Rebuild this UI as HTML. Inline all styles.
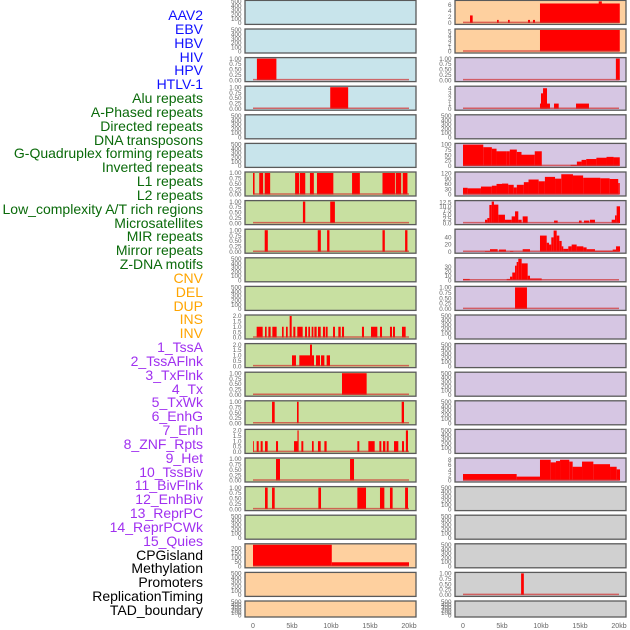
<!DOCTYPE html>
<html><head><meta charset="utf-8">
<style>
html,body{margin:0;padding:0;background:#fff;}
body{width:630px;height:630px;overflow:hidden;position:relative;font-family:"Liberation Sans",sans-serif;}
#labels div{position:absolute;right:427px;font-size:14px;line-height:14px;white-space:nowrap;}
svg{position:absolute;left:0;top:0;}
</style></head>
<body>
<div id="labels"></div>
<svg id="chart" width="630" height="630"></svg>
<script>
// ---- label data ----
const trackNames = ["AAV2","EBV","HBV","HIV","HPV","HTLV-1","Alu repeats","A-Phased repeats","Directed repeats","DNA transposons","G-Quadruplex forming repeats","Inverted repeats","L1 repeats","L2 repeats","Low_complexity A/T rich regions","Microsatellites","MIR repeats","Mirror repeats","Z-DNA motifs","CNV","DEL","DUP","INS","INV","1_TssA","2_TssAFlnk","3_TxFlnk","4_Tx","5_TxWk","6_EnhG","7_Enh","8_ZNF_Rpts","9_Het","10_TssBiv","11_BivFlnk","12_EnhBiv","13_ReprPC","14_ReprPCWk","15_Quies","CPGisland","Methylation","Promoters","ReplicationTiming","TAD_boundary"];
const trackGroups = [6,13,5,15,5];
const groupColors = ["#1010ff","#0a6a0a","#ffa500","#a030f0","#000000"];

// ---- x axis ----
const xTicks = [0,5,10,15,20];
const xTickLabels = ["0","5kb","10kb","15kb","20kb"];

// ---- tick label sets ----
const T500 = ["0","100","200","300","400","500"];
const T1 = ["0.00","0.25","0.50","0.75","1.00"];
const T2 = ["0.0","0.5","1.0","1.5","2.0"];

// ---- left column data: [startKb, endKb, value] ----
const L3 = [[0.5,3.0,1]];
const L4 = [[9.9,12.2,1]];
const L7 = [[0,0.2,1],[0.8,1.3,1],[1.5,2.2,1],[5.4,5.9,1],[6.0,6.7,1],[7.3,7.8,1],[8.2,10.3,1],[12.7,13.7,1],[16.6,18.2,1],[18.3,19.0,1],[19.2,19.8,1]];
const L8 = [[6.4,6.7,1],[9.9,10.5,1]];
const L9 = [[1.5,1.9,1],[8.3,8.7,1],[9.5,9.8,1],[16.6,16.9,1],[19.5,19.8,1]];
const L12 = [[0.47,1.24,1],[1.54,1.75,1],[1.97,2.26,1],[2.48,3.03,1],[3.72,3.93,1],[4.23,4.45,1],[4.70,4.96,2],[5.17,5.43,1],[5.68,6.37,1],[6.67,6.92,1],[7.09,7.31,1],[7.52,7.74,1],[7.87,8.16,1],[8.33,8.68,1],[8.97,9.27,1],[9.36,9.57,1],[10.26,10.51,1],[10.94,11.24,1],[11.41,11.67,1],[13.97,14.23,1],[15.13,15.94,1],[16.28,16.54,1],[17.56,17.82,1],[17.95,18.2,1],[19.1,19.57,1]];
const L13 = [[5.0,5.51,1],[5.94,7.31,1],[7.31,7.56,2],[7.56,7.82,1],[8.08,8.59,1],[8.72,9.15,1],[9.44,9.87,1]];
const L14 = [[11.41,14.57,1]];
const L15 = [[2.44,2.78,1],[5.64,5.85,1],[19.06,19.36,1]];
const L16 = [[0,0.1,1],[0.47,0.73,1],[0.98,1.24,1],[1.54,1.88,1],[2.95,3.21,1],[5.26,5.7,1],[5.7,5.85,2],[6.2,6.45,1],[7.56,7.78,1],[8.33,8.68,1],[9.15,9.44,1],[13.38,13.63,1],[14.79,15.6,1],[16.2,16.45,1],[16.67,16.97,1],[17.14,17.39,1],[18.08,18.63,1],[19.1,19.36,1],[19.6,19.87,2]];
const L17 = [[2.95,3.46,1],[12.44,12.95,1]];
const L18 = [[1.54,1.88,1],[2.44,2.78,1],[8.38,8.72,1],[13.38,14.49,1],[16.28,16.84,1],[17.56,17.9,1],[19.5,19.87,1]];
const L20 = [[0,10.1,240],[10.1,20,45]];

// ---- right column data ----
const R1 = [[0.9,1.24,2.5],[4.36,4.58,1],[5.77,5.99,1],[8.33,8.59,1],[8.97,9.23,1],[9.87,20.1,6.5],[17.4,17.8,7.2]];
const R2 = [[9.87,20.1,5.3]];
const R3 = [[19.6,20.1,1]];
const R4 = [[9.87,11.15,1],[10.0,10.26,3],[10.26,10.77,4],[11.67,12.27,1],[14.49,16.15,1]];
const R6 = [[0,2.6,99],[2.6,3.7,87],[3.7,4.3,80],[4.3,5.6,68],[5.6,6.0,68],[6.0,6.9,76],[6.9,7.5,65],[7.5,9.2,52],[9.2,10.1,68],[13.8,14.6,5],[14.6,15.2,20],[15.2,15.8,28],[15.8,17.1,32],[17.1,18.4,38],[18.4,19.3,42],[19.3,20.1,40]];
const R7 = [[0,0.6,38],[0.6,2.3,35],[2.3,3.7,45],[3.7,4.3,50],[4.3,5.0,60],[5.0,5.8,62],[5.8,6.5,55],[6.5,6.9,40],[6.9,7.8,55],[7.8,8.4,70],[8.4,9.7,85],[9.7,10.5,75],[10.5,11.8,100],[11.8,12.6,90],[12.6,14.1,115],[14.1,15.4,108],[15.4,17.6,95],[17.6,18.8,92],[18.8,19.9,88],[19.9,20.1,65]];
const R8 = [[2.82,3.12,2],[3.12,3.38,3],[3.38,3.68,10.8],[3.68,3.97,12.8],[3.97,4.53,11],[4.53,5.38,5],[5.38,6.24,2],[6.24,6.67,4],[6.67,7.09,7],[7.09,7.52,2],[7.65,8.29,4],[11.67,12.14,1.5],[14.87,15.21,1.5],[15.51,16.2,1.5],[16.28,16.92,2],[19.06,19.49,2],[19.49,19.7,4.6],[19.7,20.13,10]];
const R9 = [[2.82,3.46,2],[3.46,4.44,7],[4.62,5.51,6],[6.03,6.45,2],[7.65,8.59,7],[9.87,10.73,45],[10.73,11.03,25],[11.03,11.32,20],[11.32,11.62,40],[11.62,12.01,59],[12.01,12.35,45],[12.35,12.65,30],[12.65,12.86,15],[12.86,13.5,8],[13.5,13.93,15],[13.93,14.57,20],[14.57,15.43,15],[15.43,15.85,12],[15.85,16.92,7],[16.92,19.19,3],[19.19,19.62,6],[19.62,20.13,15]];
const R10 = [[0,0.86,3],[5.6,6.03,3],[6.03,6.32,8],[6.32,6.67,17],[6.67,6.88,32],[6.88,7.09,40],[7.09,7.52,48],[7.52,8.29,37],[8.29,8.59,10],[8.59,10.09,4]];
const R11 = [[6.67,8.2,1]];
const R17 = [[0,6.88,2.5],[6.88,9.87,1.5],[9.87,11.24,8],[11.24,11.92,7],[11.92,12.44,7.5],[12.44,13.63,8],[13.63,14.06,7.3],[14.06,15.26,5.3],[15.26,16.71,7.3],[16.71,18.85,6.3],[18.85,19.7,5.3],[19.7,20.13,4.3]];
const R21 = [[7.45,7.8,1]];

const C_BLUE="#c8e4eb", C_GREEN="#c8e0a1", C_ORANGE="#fed09f", C_PURPLE="#d6c6e3", C_GRAY="#d0d0d0";

// panel specs: [bg, tickLabels, domainMax, data]
const leftPanels = [
 [C_BLUE,T500,500,null],[C_BLUE,T500,500,null],[C_BLUE,T1,1,L3],[C_BLUE,T1,1,L4],[C_BLUE,T500,500,null],[C_BLUE,T500,500,null],
 [C_GREEN,T1,1,L7],[C_GREEN,T1,1,L8],[C_GREEN,T1,1,L9],[C_GREEN,T500,500,null],[C_GREEN,T500,500,null],
 [C_GREEN,T2,2,L12],[C_GREEN,T2,2,L13],[C_GREEN,T1,1,L14],[C_GREEN,T1,1,L15],[C_GREEN,T2,2,L16],[C_GREEN,T1,1,L17],[C_GREEN,T1,1,L18],[C_GREEN,T500,500,null],
 [C_ORANGE,["0","50","100","150","200"],240,L20],[C_ORANGE,T500,500,null],[C_ORANGE,T500,500,null]];
const rightPanels = [
 [C_ORANGE,["0","2","4","6"],7.2,R1],[C_ORANGE,["0","1","2","3","4","5"],5.3,R2],
 [C_PURPLE,T1,1,R3],[C_PURPLE,["0","1","2","3","4"],4.2,R4],[C_PURPLE,T500,500,null],
 [C_PURPLE,["0","25","50","75","100"],100,R6],[C_PURPLE,["0","30","60","90","120"],122,R7],
 [C_PURPLE,["0.0","2.5","5.0","7.5","10.0","12.5"],12.8,R8],[C_PURPLE,["0","20","40"],60,R9],[C_PURPLE,["0","10","20","30"],47,R10],
 [C_PURPLE,T1,1,R11],[C_PURPLE,T500,500,null],[C_PURPLE,T500,500,null],[C_PURPLE,T500,500,null],[C_PURPLE,T500,500,null],[C_PURPLE,T500,500,null],
 [C_PURPLE,["0","2","4","6","8"],8.3,R17],
 [C_GRAY,T500,500,null],[C_GRAY,T500,500,null],[C_GRAY,T500,500,null],[C_GRAY,T1,1,R21],[C_GRAY,T500,500,null]];

// labels
const lab = document.getElementById('labels');
let gi=0, cnt=0;
const nL = trackNames.length;
for (let i=0;i<nL;i++){
  while(cnt>=trackGroups[gi]){gi++;cnt=0;}
  cnt++;
  const d=document.createElement('div');
  
  
  d.textContent=trackNames[i];
  d.style.color=groupColors[gi];
  d.style.top=(8+i*(603-8)/(nL-1))+'px';
  lab.appendChild(d);
}

const NS="http://www.w3.org/2000/svg";
const svg=document.getElementById('chart');
function mk(tag,attrs,parent){const e=document.createElementNS(NS,tag);for(const k in attrs)e.setAttribute(k,attrs[k]);(parent||svg).appendChild(e);return e;}

function drawPanel(spec,col,row){
  const [bg,ticks,dmax,data]=spec;
  const x0 = col===0?245:455, w=171;
  const top = 0.4+row*28.6, h = row===21?16:24;
  const g=mk('g',{});
  
  
  const r=mk('rect',{x:x0,y:top,width:w,height:h,fill:bg,stroke:'#5a5a5a','stroke-width':1.3},g);
  
  
  const yb=top+h-1.5, yt=top+1;
  const ys=v=>yb-(Math.min(v,dmax)/dmax)*(yb-yt);
  const xs=kb=>x0+8+kb*7.8;
  ticks.forEach(t=>{
    const tx=mk('text',{x:x0-3.5,y:ys(parseFloat(t))+2.2,'text-anchor':'end','font-size':6.3,fill:'#666'},g);
    
    
    tx.textContent=t;
  });
  if(data){
    data.forEach(s=>{
      const b=mk('rect',{x:xs(s[0]),y:ys(s[2]),width:Math.max(0.8,xs(s[1])-xs(s[0])),height:yb-ys(s[2]),fill:'#ff0000'},g);
      
      
    });
    const ln=mk('line',{x1:xs(0),x2:xs(20),y1:yb-0.5,y2:yb-0.5,stroke:'#d03030','stroke-width':1.5,'stroke-opacity':0.7},g);
    
    
  }
}
leftPanels.forEach((p,i)=>drawPanel(p,0,i));
rightPanels.forEach((p,i)=>drawPanel(p,1,i));

[245,455].forEach(x0=>{
  xTicks.forEach((k,i)=>{
    const t=mk('text',{x:x0+8+k*7.8,y:628,'text-anchor':'middle','font-size':7,fill:'#666'});
    
    
    t.textContent=xTickLabels[i];
  });
});
</script>
</body></html>
